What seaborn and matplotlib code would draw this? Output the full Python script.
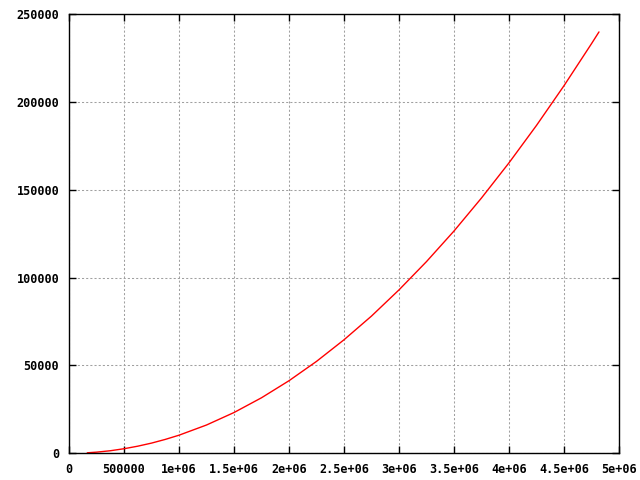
import matplotlib
matplotlib.use("Agg")
import matplotlib.pyplot as plt
import seaborn as sns
import pandas as pd

# valores
n_values = [166000, 250000, 375000, 500000, 625000, 750000, 875000, 1000000,
            1250000, 1500000, 1750000, 2000000, 2250000, 2500000, 2750000,
            3000000, 3250000, 3500000, 3750000, 4000000, 4250000, 4500000,
            4750000, 4818000]
t_values = [285, 650, 1450, 2600, 4050, 5800, 7900, 10300,
            16100, 23200, 31600, 41300, 52300, 64600, 78100,
            93000, 109100, 126500, 145300, 165300, 186600, 209200,
            233100, 239800]

x_ticks = [0, 500000, 1000000, 1500000, 2000000, 2500000, 3000000, 3500000,
           4000000, 4500000, 5000000]
x_labels = ["0", "500000", "1e+06", "1.5e+06", "2e+06", "2.5e+06", "3e+06",
            "3.5e+06", "4e+06", "4.5e+06", "5e+06"]
y_ticks = [0, 50000, 100000, 150000, 200000, 250000]

df = pd.DataFrame({"n": n_values, "t": t_values})

sns.set_style("ticks")
plt.rcParams["font.family"] = ["DejaVu Sans Mono"]

fig = plt.figure(figsize=(6.4, 4.8), dpi=100)
ax = fig.add_axes([69 / 640, 26.7 / 480, 550 / 640, 439.3 / 480])

sns.lineplot(data=df, x="n", y="t", color="#ff0000", linewidth=1.0, ax=ax)

ax.set_xlim(0, 5000000)
ax.set_ylim(0, 250000)
ax.set_xticks(x_ticks)
ax.set_xticklabels(x_labels)
ax.set_yticks(y_ticks)
ax.set_yticklabels([str(v) for v in y_ticks])
ax.set_xlabel("")
ax.set_ylabel("")

ax.grid(True, color="#a0a0a0", linestyle=(0, (2, 2)), linewidth=0.75)
ax.tick_params(direction="in", length=5, width=1, top=True, right=True,
               labelsize=8.5, pad=7, colors="black")
for lbl in ax.get_xticklabels() + ax.get_yticklabels():
    lbl.set_fontweight("bold")
for sp in ax.spines.values():
    sp.set_visible(True)
    sp.set_linewidth(1.0)
    sp.set_color("black")

fig.savefig("out.png", dpi=100)
